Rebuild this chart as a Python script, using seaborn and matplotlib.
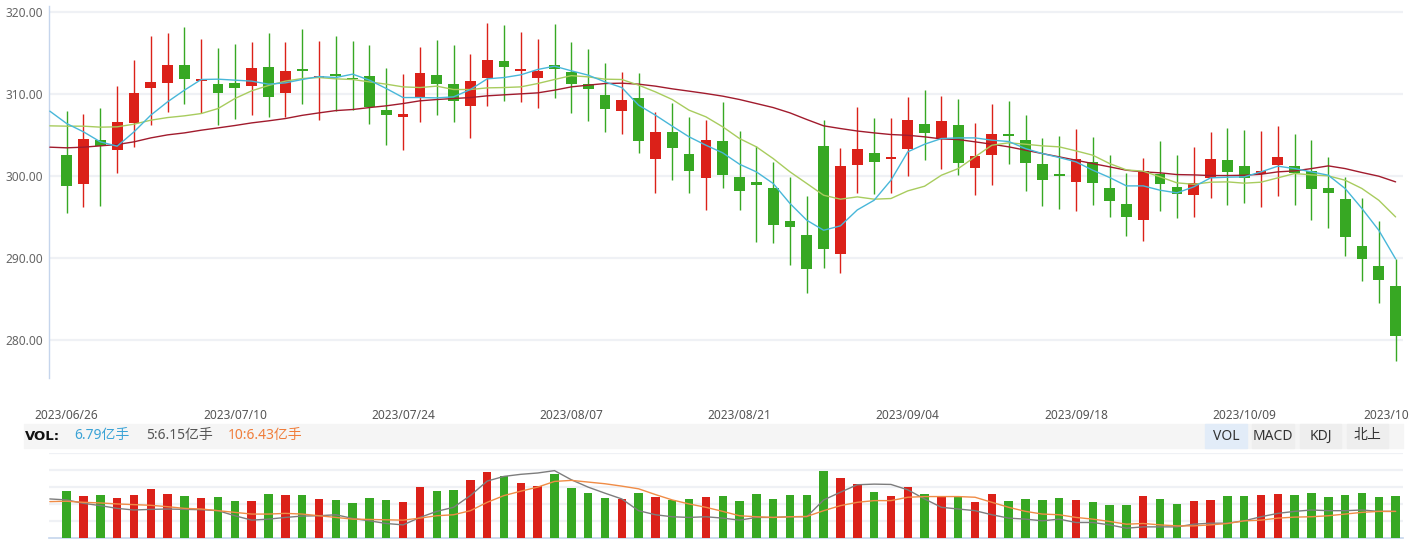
import numpy as np
import pandas as pd
import matplotlib
matplotlib.use("Agg")
import matplotlib.pyplot as plt
import seaborn as sns
from matplotlib.patches import Rectangle

# ---------------- data ----------------
opens = [302.56, 299.07, 304.39, 303.17, 306.46, 310.73, 311.34, 313.54, 311.63, 311.22,
         311.34, 310.98, 313.29, 310.16, 312.95, 311.98, 312.35, 311.95, 312.20, 308.05,
         307.24, 309.67, 312.32, 311.22, 308.58, 311.99, 314.02, 312.85, 311.99, 313.54,
         312.68, 311.22, 309.88, 307.97, 309.51, 302.11, 305.37, 302.68, 299.80, 304.27,
         299.88, 299.27, 298.54, 294.51, 292.80, 303.66, 290.53, 301.38, 302.80, 302.15,
         303.33, 306.34, 304.55, 306.22, 301.02, 302.60, 305.00, 304.39, 301.46, 300.24,
         299.31, 301.71, 298.54, 296.59, 294.67, 300.33, 298.66, 297.72, 299.84, 301.95,
         301.22, 300.24, 301.42, 301.22, 300.61, 298.54, 297.20, 291.46, 289.02, 286.63]
closes = [298.82, 304.51, 303.74, 306.59, 310.12, 311.46, 313.54, 311.83, 311.79, 310.16,
          310.73, 313.17, 309.63, 312.80, 312.85, 312.15, 312.20, 311.80, 308.41, 307.48,
          307.56, 312.56, 311.26, 309.19, 311.59, 314.15, 313.33, 313.05, 312.80, 313.13,
          311.26, 310.65, 308.21, 309.27, 304.31, 305.37, 303.46, 300.65, 304.39, 300.16,
          298.21, 298.94, 294.07, 293.82, 288.70, 291.14, 301.22, 303.29, 301.75, 302.32,
          306.83, 305.28, 306.71, 301.63, 302.44, 305.12, 304.92, 301.63, 299.55, 300.08,
          302.07, 299.19, 296.99, 295.04, 300.61, 299.07, 297.89, 299.15, 302.07, 300.53,
          299.84, 300.61, 302.32, 300.37, 298.46, 297.97, 292.60, 289.92, 287.36, 280.53]
highs = [307.93, 307.56, 308.29, 310.98, 314.15, 317.07, 317.44, 318.17, 316.71, 315.61,
         316.10, 316.34, 317.44, 316.34, 317.93, 316.46, 317.07, 316.46, 315.98, 313.17,
         312.44, 315.73, 316.59, 315.98, 314.88, 318.66, 318.41, 317.56, 316.71, 318.54,
         316.34, 315.49, 313.78, 312.68, 312.56, 307.80, 308.90, 307.20, 306.83, 309.02,
         305.49, 303.66, 301.71, 299.88, 297.56, 306.83, 303.41, 308.41, 307.07, 307.07,
         309.63, 310.49, 309.76, 309.39, 306.46, 308.78, 309.15, 307.44, 304.63, 304.88,
         305.73, 304.76, 302.56, 300.37, 302.20, 304.27, 302.56, 303.54, 305.37, 305.85,
         305.61, 305.49, 306.10, 305.12, 304.39, 302.32, 299.88, 297.32, 294.55, 289.92]
lows = [295.53, 296.22, 296.38, 300.41, 303.58, 306.22, 307.85, 308.78, 307.72, 306.22,
        306.99, 307.44, 307.20, 307.20, 308.82, 306.83, 308.00, 308.13, 306.38, 303.82,
        303.21, 306.63, 307.48, 306.63, 304.67, 308.58, 309.19, 309.07, 308.33, 309.55,
        307.72, 306.75, 305.41, 305.16, 302.85, 297.97, 299.55, 297.97, 295.89, 298.58,
        295.89, 291.99, 291.87, 289.19, 285.77, 288.82, 288.21, 297.97, 297.85, 297.97,
        300.04, 301.99, 300.89, 300.16, 297.72, 298.94, 301.50, 298.21, 296.38, 296.02,
        295.77, 296.50, 295.04, 292.72, 292.11, 295.77, 294.92, 295.04, 297.36, 296.50,
        296.75, 296.26, 297.60, 296.50, 294.67, 293.70, 290.28, 287.24, 284.55, 277.48]

# moving averages, first value belongs to the (hidden) day before the window
ma5 = [307.93, 306.42, 305.41, 304.19, 303.66, 305.40, 307.44, 309.07, 310.49, 311.79, 311.83,
       311.71, 311.59, 311.22, 311.38, 311.79, 312.15, 312.03, 312.44, 311.71, 310.69,
       309.59, 309.59, 309.55, 309.67, 310.57, 311.87, 312.03, 312.36, 313.01, 313.41,
       312.85, 312.32, 311.50, 310.81, 308.66, 307.44, 306.10, 304.80, 303.78, 302.85,
       301.46, 300.53, 299.11, 296.67, 294.63, 293.41, 293.95, 295.89, 297.07, 299.51,
       302.97, 303.90, 304.59, 304.67, 304.67, 304.39, 304.23, 303.37, 302.76, 302.28,
       301.75, 300.73, 299.84, 298.82, 298.82, 298.29, 297.97, 298.70, 299.80, 299.88,
       299.92, 300.53, 301.22, 300.93, 300.53, 300.12, 298.50, 296.06, 293.41, 289.92]
ma10 = [306.14, 306.10, 306.10, 305.98, 306.02, 306.34, 306.83, 307.15, 307.36, 307.64, 308.25,
        309.47, 310.41, 311.06, 311.59, 311.91, 312.03, 311.87, 311.79, 311.50, 311.22,
        310.89, 310.81, 310.98, 310.57, 310.57, 310.77, 310.81, 310.89, 311.30, 311.79,
        312.26, 312.11, 311.83, 311.79, 311.10, 310.28, 309.35, 308.05, 307.24, 306.02,
        304.59, 303.58, 302.15, 300.53, 299.11, 297.68, 297.20, 297.48, 297.20, 297.28,
        298.21, 298.78, 300.12, 300.93, 302.36, 303.78, 304.07, 303.90, 303.70, 303.58,
        303.09, 302.56, 301.54, 300.77, 300.61, 299.92, 299.19, 299.02, 299.27, 299.31,
        299.15, 299.27, 299.80, 300.33, 300.16, 300.04, 299.51, 298.50, 297.07, 295.04]
ma20 = [303.54, 303.46, 303.54, 303.70, 303.86, 304.19, 304.67, 305.04, 305.28, 305.61, 305.89,
        306.18, 306.50, 306.75, 307.03, 307.42, 307.72, 308.00, 308.13, 308.37, 308.58,
        308.86, 309.19, 309.35, 309.47, 309.59, 309.80, 309.92, 310.04, 310.16, 310.49,
        310.89, 311.10, 311.30, 311.34, 311.22, 310.98, 310.65, 310.37, 310.08, 309.76,
        309.35, 308.86, 308.37, 307.72, 306.91, 306.14, 305.81, 305.51, 305.28, 305.08,
        304.99, 304.80, 304.55, 304.47, 304.19, 303.90, 303.58, 303.17, 302.76, 302.36,
        301.95, 301.54, 301.14, 300.73, 300.53, 300.41, 300.20, 300.16, 300.08, 300.08,
        300.12, 300.24, 300.53, 300.65, 300.93, 301.26, 300.93, 300.45, 300.00, 299.31]

# volume (亿手)
volumes = [7.60, 6.78, 6.96, 6.46, 6.96, 7.92, 7.12, 6.78, 6.46, 6.62,
           5.98, 5.98, 7.12, 6.96, 6.96, 6.30, 6.14, 5.66, 6.46, 6.14,
           5.82, 8.24, 7.60, 7.76, 9.22, 10.51, 9.86, 8.74, 8.40, 10.19,
           8.08, 7.28, 6.46, 6.30, 7.28, 6.62, 6.14, 6.30, 6.62, 6.78,
           5.98, 7.12, 6.30, 6.96, 6.96, 10.67, 9.54, 8.58, 7.44, 6.78,
           8.24, 7.12, 6.62, 6.78, 5.82, 7.12, 5.98, 6.30, 6.14, 6.46,
           6.14, 5.82, 5.34, 5.34, 6.78, 6.30, 5.50, 5.98, 6.14, 6.78,
           6.78, 6.96, 7.12, 6.96, 7.28, 6.62, 6.96, 7.28, 6.62, 6.78]
vol_ma5 = [6.25, 6.09, 5.55, 5.18, 4.74, 4.48, 4.58, 4.64, 4.58, 4.53, 4.37,
           3.56, 2.86, 3.02, 3.29, 3.51, 3.56, 3.72, 3.13, 2.75, 2.32,
           2.10, 3.29, 4.26, 4.91, 6.79, 9.11, 9.86, 10.19, 10.40, 10.78,
           9.32, 8.14, 7.17, 6.25, 4.37, 3.72, 3.40, 3.29, 3.40, 3.18,
           2.86, 3.29, 3.29, 3.40, 3.40, 6.09, 7.33, 8.52, 8.62, 8.57,
           7.71, 6.25, 4.91, 4.64, 4.37, 3.72, 3.18, 3.02, 2.75, 3.02,
           2.48, 2.48, 2.10, 1.57, 1.78, 1.78, 1.78, 2.21, 2.37, 2.37,
           2.75, 3.40, 3.94, 4.26, 4.48, 4.37, 4.37, 4.48, 4.26, 4.26]
vol_ma10 = [5.82, 5.88, 5.71, 5.61, 5.45, 5.34, 5.23, 5.01, 4.74, 4.64, 4.37,
            4.10, 3.83, 3.83, 3.94, 3.83, 3.56, 3.29, 3.02, 2.97, 2.91,
            2.86, 3.18, 3.56, 3.72, 4.37, 5.71, 6.79, 7.49, 8.14, 9.05,
            9.22, 8.95, 8.68, 8.30, 7.87, 6.95, 6.09, 5.45, 4.91, 4.26,
            3.56, 3.40, 3.29, 3.40, 3.45, 4.37, 5.18, 5.71, 5.98, 5.98,
            6.52, 6.63, 6.63, 6.63, 6.52, 5.71, 4.91, 4.26, 3.83, 3.72,
            3.29, 3.02, 2.64, 2.21, 2.32, 2.10, 1.94, 1.94, 2.10, 2.32,
            2.75, 2.86, 3.18, 3.34, 3.40, 3.56, 3.83, 4.10, 4.26, 4.26]

date_tick_idx = [0, 10, 20, 30, 40, 50, 60, 70, 79]
date_labels = ["2023/06/26", "2023/07/10", "2023/07/24", "2023/08/07", "2023/08/21",
               "2023/09/04", "2023/09/18", "2023/10/09", "2023/10/20"]
price_ticks = [280, 290, 300, 310, 320]
vol_legend = ["6.79亿手", "5:6.15亿手", "10:6.43亿手"]
buttons = ["VOL", "MACD", "KDJ", "北上"]

# ---------------- style ----------------
RED = "#db2119"
GREEN = "#37a823"
GRID = "#eff1f5"
AXIS = "#c5d5ec"

sns.set_theme(style="white")
plt.rcParams["font.family"] = ["Noto Sans", "Noto Sans CJK SC", "DejaVu Sans"]

W, H = 1409, 540
fig = plt.figure(figsize=(W / 100, H / 100), dpi=100)

n = len(opens)
idx = np.arange(n)
df = pd.DataFrame({"i": idx, "o": opens, "c": closes, "h": highs, "l": lows, "v": volumes})
df["dir"] = np.where(df["c"] >= df["o"], "up", "down")
pal = {"up": RED, "down": GREEN}

XL, XR = -1.05, 79.44

# ---------------- price panel ----------------
ax = fig.add_axes([49 / W, 1 - 378 / H, (1403 - 49) / W, (378 - 6) / H])
ax.set_xlim(XL, XR)
ax.set_ylim(275.4, 320.75)
ax.set_yticks(price_ticks)
ax.set_yticklabels([f"{t:.2f}" for t in price_ticks])
ax.yaxis.grid(True, color=GRID, lw=1.6)
ax.set_axisbelow(True)
for s in ["top", "right", "bottom"]:
    ax.spines[s].set_visible(False)
ax.spines["left"].set_color(AXIS)
ax.spines["left"].set_linewidth(1.0)
ax.tick_params(axis="y", length=0, pad=4, labelsize=8.6, labelcolor="#666666")
ax.set_xticks(date_tick_idx)
ax.set_xticklabels(date_labels)
ax.tick_params(axis="x", length=0, pad=22, labelsize=8.6, labelcolor="#555555")

cols = [pal[d] for d in df["dir"]]
ax.vlines(df["i"], df["l"], df["h"], colors=cols, lw=1.0, zorder=2)
body_bottom = np.minimum(df["o"], df["c"])
body_h = np.maximum(np.abs(df["c"] - df["o"]), 0.2)
ax.bar(df["i"], body_h, bottom=body_bottom, width=0.64, color=cols, lw=0, zorder=3)

ma_idx = np.arange(-1, n)
sns.lineplot(x=ma_idx, y=ma20, ax=ax, color="#a11b2d", lw=1.0, zorder=4)
sns.lineplot(x=ma_idx, y=ma10, ax=ax, color="#a8cc5e", lw=1.0, zorder=4)
sns.lineplot(x=ma_idx, y=ma5, ax=ax, color="#48b7d9", lw=1.0, zorder=5)
ax.set_xlim(XL, XR)
ax.set_xlabel("")
ax.set_ylabel("")

# ---------------- VOL header bar ----------------
fig.patches.append(Rectangle((24 / W, 1 - 448 / H), (1403 - 24) / W, 24 / H,
                             transform=fig.transFigure, color="#f5f5f5", zorder=0))
ytxt = 1 - 436 / H
fig.text(25 / W, ytxt, "VOL:", fontsize=9.5, fontweight="bold", color="#111111",
         va="center", family=["DejaVu Sans"])
fig.text(74 / W, ytxt, vol_legend[0], fontsize=10, color="#3ba3d6", va="center")
fig.text(146 / W, ytxt, vol_legend[1], fontsize=10, color="#555555", va="center")
fig.text(228 / W, ytxt, vol_legend[2], fontsize=10, color="#f07d3a", va="center")
btn_x = [(1205, 1247), (1252, 1294), (1300, 1341), (1347, 1388)]
for (x0, x1), lab in zip(btn_x, buttons):
    bg = "#e2ecf8" if lab == "VOL" else "#eeeeee"
    fig.patches.append(Rectangle((x0 / W, 1 - 448 / H), (x1 - x0) / W, 24 / H,
                                 transform=fig.transFigure, color=bg, zorder=1))
    fig.text((x0 + x1) / 2 / W, ytxt, lab, fontsize=10, color="#333333",
             ha="center", va="center")

# ---------------- volume panel ----------------
axv = fig.add_axes([49 / W, 1 - 538 / H, (1403 - 49) / W, (538 - 452.5) / H])
sns.barplot(data=df, x="i", y="v", hue="dir", palette=pal, dodge=False, width=0.5,
            legend=False, ax=axv, zorder=3, saturation=1, linewidth=0)
sns.lineplot(x=ma_idx, y=vol_ma5, ax=axv, color="#7d7d7d", lw=1.0, zorder=4)
sns.lineplot(x=ma_idx, y=vol_ma10, ax=axv, color="#f08c46", lw=1.0, zorder=4)
vtop = 13.68
axv.set_ylim(0, vtop)
axv.set_xlim(XL, XR)
axv.set_yticks([vtop * k / 5 for k in range(1, 6)])
axv.set_yticklabels([])
axv.set_xticks([])
axv.yaxis.grid(True, color=GRID, lw=1.6)
axv.set_axisbelow(True)
axv.tick_params(length=0)
axv.set_xlabel("")
axv.set_ylabel("")
for s in ["top", "right", "left"]:
    axv.spines[s].set_visible(False)
axv.spines["bottom"].set_color(AXIS)
axv.spines["bottom"].set_linewidth(1.2)

fig.savefig("out.png", dpi=100, facecolor="white")
